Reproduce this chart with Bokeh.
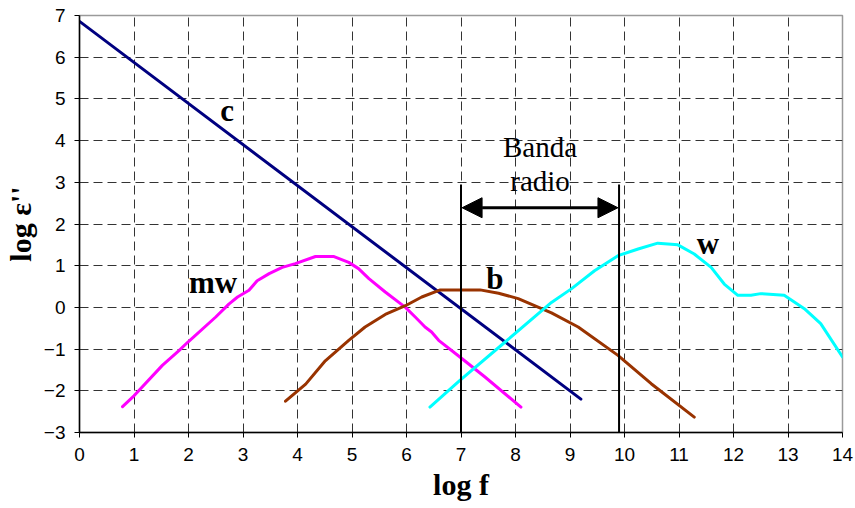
from bokeh.plotting import figure
from bokeh.models import Label, Arrow, NormalHead, FixedTicker
from bokeh.embed import file_html
from bokeh.resources import INLINE

# ---- data ----
c_x = [0.0, 9.2]
c_y = [6.86, -2.2]

mw_x = [0.79, 1.0, 1.52, 1.83, 1.99, 2.5, 2.74, 2.9, 3.11, 3.26, 3.48, 3.72, 3.96, 4.33,
        4.67, 4.94, 5.12, 5.31, 5.61, 5.98, 6.16, 6.34, 6.46, 6.59, 6.98, 7.44, 8.1]
mw_y = [-2.38, -2.12, -1.39, -1.03, -0.83, -0.23, 0.08, 0.25, 0.41, 0.64, 0.81, 0.96, 1.05, 1.22,
        1.22, 1.08, 0.93, 0.69, 0.37, 0.0, -0.23, -0.47, -0.59, -0.79, -1.19, -1.67, -2.39]

b_x = [3.78, 4.15, 4.51, 4.94, 5.24, 5.61, 5.98, 6.28, 6.62, 6.98, 7.35, 7.69, 8.05, 8.66,
       9.15, 9.88, 10.49, 11.28]
b_y = [-2.25, -1.84, -1.28, -0.79, -0.47, -0.17, 0.04, 0.25, 0.42, 0.42, 0.42, 0.34, 0.21, -0.13,
       -0.47, -1.15, -1.83, -2.63]

w_x = [6.43, 6.98, 7.81, 8.66, 9.03, 9.45, 9.88, 10.25, 10.61, 10.98, 11.28, 11.59, 11.83,
       12.08, 12.32, 12.5, 12.93, 13.3, 13.6, 14.0]
w_y = [-2.39, -1.75, -0.83, 0.12, 0.45, 0.88, 1.24, 1.4, 1.54, 1.5, 1.28, 0.96, 0.56,
       0.29, 0.29, 0.33, 0.29, -0.03, -0.39, -1.19]

x_ticks = list(range(0, 15))
y_ticks = list(range(-3, 8))

band_lo, band_hi = 7.0, 9.9
band_top = 2.95
arrow_y = 2.39

band_text = ["Banda", "radio"]
band_text_x = 8.45
band_text_y = [3.84, 3.04]

curve_labels = ["c", "mw", "b", "w"]
curve_label_x = [2.71, 2.45, 7.62, 11.53]
curve_label_y = [4.72, 0.60, 0.69, 1.53]

p = figure(width=855, height=508, x_range=(0, 14), y_range=(-3, 7),
           output_backend="svg", toolbar_location=None,
           min_border_left=77, min_border_right=13, min_border_top=15, min_border_bottom=76)
p.background_fill_color = "white"
p.border_fill_color = "white"
p.outline_line_color = "#9a9a9a"
p.outline_line_width = 1.5

for ax in (p.xaxis, p.yaxis):
    ax.axis_line_color = "black"
    ax.axis_line_width = 1.5
    ax.major_tick_line_color = "black"
    ax.major_tick_out = 5
    ax.major_tick_in = 0
    ax.minor_tick_line_color = None
    ax.major_label_text_font = "Liberation Sans"
    ax.major_label_text_font_size = "19px"
    ax.major_label_text_color = "black"
    ax.axis_label_text_font = "Liberation Serif"
    ax.axis_label_text_font_style = "bold"
    ax.axis_label_text_font_size = "30px"
    ax.axis_label_text_color = "black"

p.xaxis.ticker = FixedTicker(ticks=x_ticks)
p.yaxis.ticker = FixedTicker(ticks=y_ticks)
p.xaxis.major_label_standoff = 10
p.yaxis.major_label_standoff = 9
p.xaxis.axis_label = "log f"
p.yaxis.axis_label = "log ε''"
p.xaxis.axis_label_standoff = 4
p.yaxis.axis_label_standoff = 4

p.xgrid.ticker = FixedTicker(ticks=x_ticks)
p.ygrid.ticker = FixedTicker(ticks=y_ticks)
for g in (p.xgrid, p.ygrid):
    g.grid_line_color = "#333333"
    g.grid_line_dash = "9 5"
    g.grid_line_width = 1

for xs, ys, col in ((c_x, c_y, "#000080"), (mw_x, mw_y, "#FF00FF"),
                    (b_x, b_y, "#993300"), (w_x, w_y, "#00FFFF")):
    p.line(xs, ys, line_color=col, line_width=3, line_join="round", line_cap="round")

# radio band vertical lines
p.segment(x0=[band_lo, band_hi], y0=[-3, -3], x1=[band_lo, band_hi], y1=[band_top, band_top],
          line_color="black", line_width=2)

p.add_layout(Arrow(x_start=band_lo + 0.02, y_start=arrow_y, x_end=band_hi - 0.02, y_end=arrow_y,
                   line_color="black", line_width=3,
                   start=NormalHead(size=20, fill_color="black", line_color="black"),
                   end=NormalHead(size=20, fill_color="black", line_color="black")))

for t, y in zip(band_text, band_text_y):
    p.add_layout(Label(x=band_text_x, y=y, text=t, text_align="center", text_baseline="alphabetic",
                       text_font="Liberation Serif", text_font_size="29px", text_color="black"))

for t, x, y in zip(curve_labels, curve_label_x, curve_label_y):
    p.add_layout(Label(x=x, y=y, text=t, text_align="center", text_baseline="alphabetic",
                       text_font="Liberation Serif", text_font_style="bold",
                       text_font_size="31px", text_color="black"))

open("out.html", "w").write(file_html(p, INLINE))
